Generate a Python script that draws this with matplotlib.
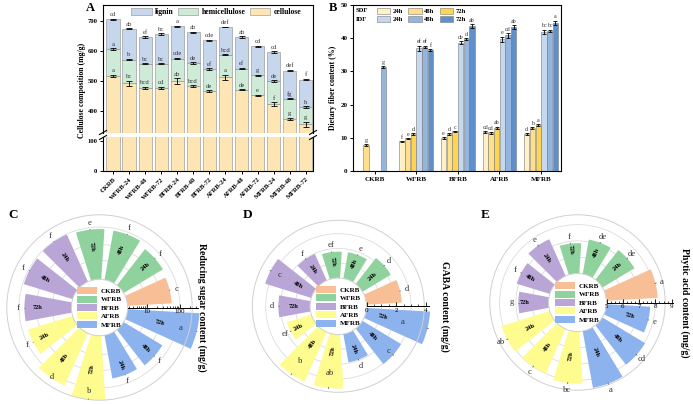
import numpy as np
import matplotlib
matplotlib.use('Agg')
import matplotlib.pyplot as plt
from matplotlib.patches import Patch
from matplotlib.lines import Line2D

plt.rcParams['font.family'] = ['Liberation Serif', 'DejaVu Serif']
plt.rcParams['axes.linewidth'] = 0.8
plt.rcParams['xtick.major.width'] = 0.7
plt.rcParams['ytick.major.width'] = 0.7
plt.rcParams['xtick.major.size'] = 2.5
plt.rcParams['ytick.major.size'] = 2.5

# ---------------- A: cellulose composition (mg/g)
samples = ['CKRB', 'WFRB-24', 'WFRB-48', 'WFRB-72', 'BFRB-24', 'BFRB-48', 'BFRB-72',
           'AFRB-24', 'AFRB-48', 'AFRB-72', 'MFRB-24', 'MFRB-48', 'MFRB-72']
cellulose = [516, 492, 478, 478, 500, 483, 467, 512, 471, 453, 423, 375, 357]
hemicellulose = [90, 79, 79, 79, 74, 77, 73, 75, 70, 66, 77, 66, 57]
lignin = [99, 102, 89, 99, 107, 102, 95, 92, 105, 96, 96, 94, 91]
cellulose_err = [4, 8, 4, 3, 9, 3, 2, 9, 2, 2, 7, 3, 8]
hemicellulose_err = [2, 2, 2, 2, 2, 2, 2, 2, 2, 2, 2, 2, 2]
lignin_err = [2, 2, 2, 2, 2, 2, 2, 1, 2, 1, 2, 2, 2]
cellulose_sig = ['a', 'bc', 'bcd', 'cd', 'ab', 'bcd', 'de', 'a', 'de', 'e', 'f', 'g', 'g']
hemicellulose_sig = ['a', 'b', 'bc', 'bc', 'cde', 'de', 'ef', 'bcd', 'ef', 'g', 'de', 'fg', 'h']
lignin_sig = ['cd', 'ab', 'ef', 'bc', 'a', 'ab', 'cde', 'def', 'ab', 'cd', 'cd', 'def', 'f']

# ---------------- B: dietary fiber content (%)
groups = ['CKRB', 'WFRB', 'BFRB', 'AFRB', 'MFRB']
sdf_24h = [np.nan, 8.9, 9.8, 11.6, 11.1]
sdf_48h = [7.9, 9.8, 11.0, 11.3, 13.0]
sdf_72h = [np.nan, 11.0, 11.9, 13.1, 13.8]
idf_24h = [np.nan, 36.9, 38.7, 39.7, 42.0]
idf_48h = [31.2, 37.4, 39.7, 40.9, 42.2]
idf_72h = [np.nan, 36.4, 43.7, 43.3, 44.7]
sdf_24h_err = [0, 0.2, 0.3, 0.3, 0.3]
sdf_48h_err = [0.3, 0.2, 0.3, 0.3, 0.2]
sdf_72h_err = [0, 0.3, 0.2, 0.3, 0.3]
idf_24h_err = [0, 0.9, 0.4, 0.8, 0.6]
idf_48h_err = [0.3, 0.4, 0.3, 0.7, 0.4]
idf_72h_err = [0, 0.3, 0.5, 0.6, 0.6]
sdf_24h_sig = ['', 'f', 'e', 'cd', 'd']
sdf_48h_sig = ['g', 'e', 'd', 'cd', 'b']
sdf_72h_sig = ['', 'd', 'c', 'ab', 'a']
idf_24h_sig = ['', 'ef', 'de', 'e', 'bc']
idf_48h_sig = ['g', 'ef', 'd', 'cd', 'bc']
idf_72h_sig = ['', 'f', 'ab', 'ab', 'a']

# ---------------- C-E: polar bars (CKRB, WFRB 24/48/72, BFRB ..., AFRB ..., MFRB ...)
polar_groups = ['CKRB', 'WFRB', 'BFRB', 'AFRB', 'MFRB']
polar_times = ['', '24h', '48h', '72h', '24h', '48h', '72h', '24h', '48h', '72h', '24h', '48h', '72h']
reducing_sugar = [57, 64, 85, 87, 97, 92, 69, 68, 141, 228, 56, 61, 390]
reducing_sugar_err = [2, 2, 3, 3, 3, 3, 2, 2, 5, 8, 2, 2, 15]
reducing_sugar_sig = ['c', 'f', 'f', 'e', 'f', 'f', 'f', 'f', 'd', 'b', 'f', 'f', 'a']
gaba = [2.39, 2.23, 1.80, 1.78, 1.97, 3.26, 2.14, 1.73, 3.67, 3.65, 1.94, 3.04, 4.30]
gaba_err = [0.05, 0.05, 0.04, 0.04, 0.05, 0.06, 0.05, 0.05, 0.06, 0.06, 0.05, 0.06, 0.08]
gaba_sig = ['d', 'd', 'e', 'ef', 'f', 'c', 'd', 'ef', 'b', 'ab', 'd', 'c', 'a']
phytic_acid = [8.15, 7.30, 7.14, 6.86, 7.47, 7.12, 6.85, 8.09, 8.00, 8.20, 8.54, 8.06, 7.69]
phytic_acid_err = [0.06, 0.05, 0.05, 0.05, 0.06, 0.05, 0.05, 0.06, 0.06, 0.06, 0.06, 0.06, 0.05]
phytic_acid_sig = ['a', 'de', 'de', 'f', 'e', 'f', 'g', 'ab', 'c', 'bc', 'a', 'cd', 'e']

W, H = 693, 404
fig = plt.figure(figsize=(W / 100, H / 100), dpi=100)


def fig_rect(left, top, right, bottom):
    return [left / W, 1 - bottom / H, (right - left) / W, (bottom - top) / H]


def px_line(x0, y0, x1, y1, **kw):
    fig.add_artist(Line2D([x0 / W, x1 / W], [1 - y0 / H, 1 - y1 / H], transform=fig.transFigure, **kw))


# ======================= A
ax_hi = fig.add_axes(fig_rect(103, 5, 313, 133))
ax_lo = fig.add_axes(fig_rect(103, 137, 313, 171))
x = np.arange(len(samples))
cel = np.array(cellulose)
hem = np.array(hemicellulose)
lig = np.array(lignin)
c_cel, c_hem, c_lig = '#fde6b4', '#cdebd7', '#c6d6ec'
for ax in (ax_hi, ax_lo):
    ax.bar(x, cel, 0.82, color=c_cel, edgecolor='#8a8a8a', lw=0.4)
    ax.bar(x, hem, 0.82, bottom=cel, color=c_hem, edgecolor='#8a8a8a', lw=0.4)
    ax.bar(x, lig, 0.82, bottom=cel + hem, color=c_lig, edgecolor='#8a8a8a', lw=0.4)
    ax.set_xlim(-0.62, 12.45)
    ax.tick_params(direction='out', labelsize=4.8, pad=1.5)

for tops, errs, sig in ((cel, cellulose_err, cellulose_sig),
                        (cel + hem, hemicellulose_err, hemicellulose_sig),
                        (cel + hem + lig, lignin_err, lignin_sig)):
    ax_hi.errorbar(x, tops, yerr=errs, fmt='none', ecolor='k', elinewidth=0.6, capsize=2, capthick=0.6)
    for i in range(len(x)):
        ax_hi.annotate(sig[i], (x[i], tops[i] + errs[i]), xytext=(0, 1.2), textcoords='offset points',
                       ha='center', va='bottom', fontsize=4.8, color='#333333')

ax_hi.set_ylim(328, 752)
ax_hi.set_yticks([400, 500, 600, 700])
ax_hi.spines['bottom'].set_visible(False)
ax_hi.tick_params(bottom=False, labelbottom=False)
ax_lo.set_ylim(0, 113)
ax_lo.set_yticks([0, 100])
ax_lo.spines['top'].set_visible(False)
ax_lo.set_xticks(x)
ax_lo.set_xticklabels(samples, rotation=45, ha='right', rotation_mode='anchor', fontsize=4.8, fontweight='bold')
for t in ax_hi.get_yticklabels() + ax_lo.get_yticklabels():
    t.set_fontweight('bold')

# break marks
for xb in (103, 313):
    for yb in (132.5, 137.5):
        px_line(xb - 3.5, yb + 2, xb + 3.5, yb - 2, color='k', lw=0.8)

ax_hi.legend(handles=[Patch(fc=c_lig, ec='#8a8a8a', lw=0.4), Patch(fc=c_hem, ec='#8a8a8a', lw=0.4),
                      Patch(fc=c_cel, ec='#8a8a8a', lw=0.4)],
             labels=['lignin', 'hemicellulose', 'cellulose'], ncol=3, loc='center',
             bbox_to_anchor=(0.54, 0.945), frameon=False, handlelength=2.6, handleheight=0.9,
             columnspacing=0.6, handletextpad=0.4, prop={'size': 5.6, 'weight': 'bold'})
fig.text(82 / W, 1 - 90 / H, 'Cellulose composition (mg/g)', rotation=90, ha='center', va='center',
         fontsize=5.6, fontweight='bold')
fig.text(90 / W, 1 - 8 / H, 'A', ha='center', va='center', fontsize=9, fontweight='bold')

# ======================= B
ax_b = fig.add_axes(fig_rect(353, 5, 561, 171))
xg = np.arange(len(groups))
bw = 0.137
series = [(sdf_24h, sdf_24h_err, sdf_24h_sig, '#fff0c6'),
          (sdf_48h, sdf_48h_err, sdf_48h_sig, '#ffe08a'),
          (sdf_72h, sdf_72h_err, sdf_72h_sig, '#ffd451'),
          (idf_24h, idf_24h_err, idf_24h_sig, '#c5d8ee'),
          (idf_48h, idf_48h_err, idf_48h_sig, '#94b6de'),
          (idf_72h, idf_72h_err, idf_72h_sig, '#5f90cc')]
handles_b = []
for j, (vals, errs, sig, col) in enumerate(series):
    xs = xg + (j - 2.5) * bw
    vals = np.array(vals, dtype=float)
    ok = ~np.isnan(vals)
    ax_b.bar(xs[ok], vals[ok], bw * 0.92, color=col, edgecolor='#7a7a7a', lw=0.4)
    ax_b.errorbar(xs[ok], vals[ok], yerr=np.array(errs)[ok], fmt='none', ecolor='k',
                  elinewidth=0.6, capsize=1.5, capthick=0.6)
    for i in np.where(ok)[0]:
        ax_b.annotate(sig[i], (xs[i], vals[i] + errs[i]), xytext=(0, 0.8), textcoords='offset points',
                      ha='center', va='bottom', fontsize=4.3, color='#333333')
    handles_b.append(Patch(fc=col, ec='#7a7a7a', lw=0.4))

ax_b.set_xlim(-0.52, 4.48)
ax_b.set_ylim(0, 50)
ax_b.set_yticks([0, 10, 20, 30, 40, 50])
ax_b.set_xticks(xg)
ax_b.set_xticklabels(groups, fontsize=5.2, fontweight='bold')
ax_b.tick_params(direction='out', labelsize=5, pad=1.5)
for t in ax_b.get_yticklabels():
    t.set_fontweight('bold')
ax_b.legend(handles=[handles_b[0], handles_b[3], handles_b[1], handles_b[4], handles_b[2], handles_b[5]],
            labels=['24h', '24h', '48h', '48h', '72h', '72h'], ncol=3, loc='upper left',
            bbox_to_anchor=(0.085, 1.02), frameon=False, handlelength=2.0, handleheight=1.0,
            columnspacing=0.8, labelspacing=0.3, handletextpad=0.4, prop={'size': 4.8, 'weight': 'bold'})
ax_b.text(0.012, 0.968, 'SDF', transform=ax_b.transAxes, ha='left', va='center', fontsize=4.8, fontweight='bold')
ax_b.text(0.012, 0.915, 'IDF', transform=ax_b.transAxes, ha='left', va='center', fontsize=4.8, fontweight='bold')
fig.text(333 / W, 1 - 88 / H, 'Dietary fiber content (%)', rotation=90, ha='center', va='center',
         fontsize=5.6, fontweight='bold')
fig.text(333 / W, 1 - 8 / H, 'B', ha='center', va='center', fontsize=9, fontweight='bold')

# ======================= C - E
group_colors = ['#f8be96', '#90d29d', '#b9a6d6', '#fefb8f', '#8db3ee']
bar_colors = [group_colors[0]] + [c for c in group_colors[1:] for _ in range(3)]
n = len(polar_times)
theta = (np.arange(n) + 0.5) * 2 * np.pi / n


def polar_panel(cx, cy, radius, vals, errs, sig, rmin, rmax, rorigin, log, ticks, tick_labels,
                minor, axis_end, grid, label_r, cap, title, title_x, letter, letter_x):
    ax = fig.add_axes(fig_rect(cx - radius, cy - radius, cx + radius, cy + radius), projection='polar')
    if log:
        ax.set_rscale('log')
    ax.set_rlim(rmin, rmax)
    ax.set_rorigin(rorigin)
    vals = np.array(vals, dtype=float)
    ax.bar(theta, vals - rmin, width=2 * np.pi / n * 0.76, bottom=rmin, color=bar_colors,
           edgecolor='none', clip_on=False, zorder=2)
    ax.errorbar(theta, vals, yerr=errs, fmt='none', ecolor='#666666', elinewidth=0.6, clip_on=False, zorder=3)
    ax.set_xticks([])
    ax.set_yticks(grid, labels=[''] * len(grid))
    ax.yaxis.set_minor_locator(matplotlib.ticker.NullLocator())
    ax.yaxis.grid(True, color='#dcdcdc', lw=0.6)
    ax.tick_params(axis='y', length=0)
    for s in ax.spines.values():
        s.set_color('#d0d0d0')
        s.set_linewidth(0.7)
    # radial axis along theta = 0
    ax.plot([0, 0], [rmin, axis_end], color='k', lw=0.7, clip_on=False, zorder=4)
    ax.plot(np.zeros(len(ticks)), ticks, ls='none', marker=2, ms=3, mew=0.6, color='k', clip_on=False, zorder=4)
    ax.plot(np.zeros(len(minor)), minor, ls='none', marker=2, ms=1.8, mew=0.5, color='k', clip_on=False, zorder=4)
    for t, lab in zip(ticks, tick_labels):
        ax.annotate(lab, (0, t), xytext=(0, -1.2), textcoords='offset points', ha='center', va='top',
                    fontsize=5, annotation_clip=False)
    for i in range(n):
        deg = np.degrees(theta[i])
        rot = deg if np.cos(theta[i]) >= 0 else deg - 180
        if polar_times[i]:
            ax.text(theta[i], label_r, polar_times[i], rotation=rot, rotation_mode='anchor', ha='center',
                    va='center', fontsize=4.6, fontweight='bold', zorder=5)
        if vals[i] > cap:
            ax.annotate(sig[i], (theta[i], cap), ha='center', va='center', fontsize=6.2,
                        color='#333333', annotation_clip=False, zorder=5)
        else:
            ax.annotate(sig[i], (theta[i], vals[i]), xytext=(4.8 * np.cos(theta[i]), 4.8 * np.sin(theta[i])),
                        textcoords='offset points', ha='center', va='center', fontsize=6.2,
                        color='#333333', annotation_clip=False, zorder=5)
    ax.legend(handles=[Patch(fc=c, ec='none') for c in group_colors], labels=polar_groups, loc='center',
              frameon=False, handlelength=2.9, handleheight=1.15, labelspacing=0.22, handletextpad=0.5,
              borderpad=0, prop={'size': 5, 'weight': 'bold'})
    fig.text(title_x / W, 1 - cy / H, title, rotation=-90, ha='center', va='center', fontsize=7,
             fontweight='bold')
    fig.text(letter_x / W, 1 - 215 / H, letter, ha='center', va='center', fontsize=9.5, fontweight='bold')
    return ax


polar_panel(99.5, 307.5, 92.7, reducing_sugar, reducing_sugar_err, reducing_sugar_sig,
            2.7, 233, 0.384, True, [10, 100], ['10', '100'],
            [3, 4, 5, 6, 7, 8, 9, 20, 30, 40, 50, 60, 70, 80, 90, 200, 300], 350,
            [10, 30, 100], 27, 128, 'Reducing sugar content (mg/g)', 202, 'C', 13)
polar_panel(338.3, 306.3, 86, gaba, gaba_err, gaba_sig,
            0, 3.9, -1.91, False, [0, 2, 4], ['0', '2', '4'],
            [0.5, 1, 1.5, 2.5, 3, 3.5], 4.2,
            [1, 2, 3], 1.15, 2.6, 'GABA content (mg/g)', 445, 'D', 248)
polar_panel(577.5, 302.5, 87.7, phytic_acid, phytic_acid_err, phytic_acid_sig,
            5, 8.6, 3.22, False, [5, 6, 7, 8, 9], ['5', '6', '7', '8', '9'],
            [5.25, 5.5, 5.75, 6.25, 6.5, 6.75, 7.25, 7.5, 7.75, 8.25, 8.5, 8.75], 9.05,
            [6, 7, 8], 6.5, np.inf, 'Phytic acid content (mg/g)', 685, 'E', 485)

fig.savefig('out.png', dpi=100)
